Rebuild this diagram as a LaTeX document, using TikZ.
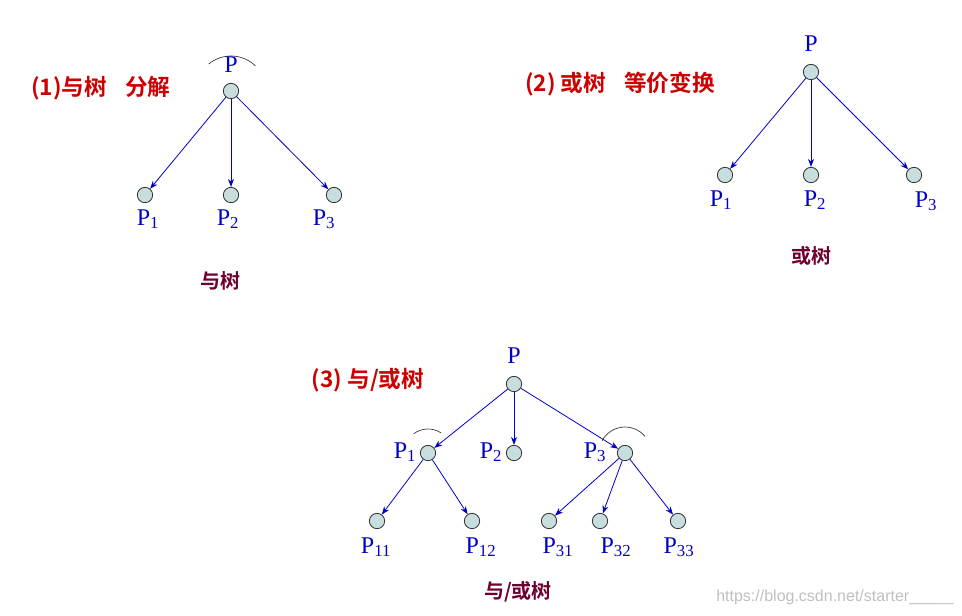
\documentclass[tikz,border=0pt]{standalone}
\usepackage{fontspec}
\setmainfont{Liberation Serif}
\newfontfamily\cjk{Noto Sans CJK SC}[BoldFont={Noto Sans CJK SC Bold}]
\newfontfamily\sans{Liberation Sans}
\usetikzlibrary{arrows.meta,calc}
\definecolor{nodefill}{RGB}{200,222,222}
\definecolor{titlered}{RGB}{204,0,0}
\definecolor{capc}{RGB}{110,0,50}
\definecolor{lblue}{RGB}{0,0,200}
\begin{document}
\begin{tikzpicture}[x=0.75pt,y=-0.75pt,
  nd/.style={circle,draw=black!80,fill=nodefill,inner sep=0pt,minimum size=11.5pt,line width=0.6pt},
  ed/.style={-{Stealth[length=6pt,width=4.5pt]},draw=lblue,line width=0.6pt},
  lbtxt/.style={text=lblue,font=\fontsize{18}{18}\selectfont,inner sep=0pt},
  ttl/.style={text=titlered,font=\cjk\bfseries\fontsize{17}{17}\selectfont,inner sep=0pt},
  captxt/.style={text=capc,font=\cjk\bfseries\fontsize{15}{15}\selectfont,inner sep=0pt},
  arcline/.style={draw=black!80,line width=0.5pt}]
\useasboundingbox (0,0) rectangle (962,615);
% Tree 1
\node[nd] (a) at (231,91) {};
\node[nd] (a1) at (145,195) {};
\node[nd] (a2) at (231,195) {};
\node[nd] (a3) at (334,195) {};
\foreach \t in {a1,a2,a3} \draw[ed] (a) -- (\t);
\draw[arcline] ($(a)+(-129.6:35)$) arc[start angle=-129.6,end angle=-45.7,radius=35];
\node[lbtxt] (la) at (231,65) {P};
\node[lbtxt] (la1) at (148,219) {P\textsubscript{1}};
\node[lbtxt] (la2) at (228,219) {P\textsubscript{2}};
\node[lbtxt] (la3) at (324,219) {P\textsubscript{3}};
\node[ttl] (t1) at (101,88) {(1)与树\hspace{0.8em}分解};
\node[captxt] (c1) at (220,281) {与树};
% Tree 2
\node[nd] (b) at (811,72) {};
\node[nd] (b1) at (725,175) {};
\node[nd] (b2) at (811,175) {};
\node[nd] (b3) at (914,175) {};
\foreach \t in {b1,b2,b3} \draw[ed] (b) -- (\t);
\node[lbtxt] (lb0) at (811,44) {P};
\node[lbtxt] (lb1) at (721,200) {P\textsubscript{1}};
\node[lbtxt] (lb2) at (815,200) {P\textsubscript{2}};
\node[lbtxt] (lb3) at (926,201) {P\textsubscript{3}};
\node[ttl] (t2) at (620,84) {(2) 或树\hspace{0.8em}等价变换};
\node[captxt] (c2) at (811,256) {或树};
% Tree 3
\node[nd] (p) at (514,384) {};
\node[nd] (p1) at (428,453) {};
\node[nd] (p2) at (514,453) {};
\node[nd] (p3) at (625,453) {};
\node[nd] (p11) at (377,521) {};
\node[nd] (p12) at (472,521) {};
\node[nd] (p31) at (549,521) {};
\node[nd] (p32) at (600,521) {};
\node[nd] (p33) at (678,521) {};
\foreach \t in {p1,p2,p3} \draw[ed] (p) -- (\t);
\foreach \t in {p11,p12} \draw[ed] (p1) -- (\t);
\foreach \t in {p31,p32,p33} \draw[ed] (p3) -- (\t);
\draw[arcline] ($(p1)+(-126.9:24)$) arc[start angle=-126.9,end angle=-57,radius=24];
\draw[arcline] ($(p3)+(-152:26)$) arc[start angle=-152,end angle=-40,radius=26];
\node[lbtxt] (lp) at (514,356) {P};
\node[lbtxt] (lp1) at (405,452) {P\textsubscript{1}};
\node[lbtxt] (lp2) at (491,452) {P\textsubscript{2}};
\node[lbtxt] (lp3) at (595,452) {P\textsubscript{3}};
\node[lbtxt] (lp11) at (376,547) {P\textsubscript{11}};
\node[lbtxt] (lp12) at (481,547) {P\textsubscript{12}};
\node[lbtxt] (lp31) at (558,547) {P\textsubscript{31}};
\node[lbtxt] (lp32) at (616,547) {P\textsubscript{32}};
\node[lbtxt] (lp33) at (679,547) {P\textsubscript{33}};
\node[ttl] (t3) at (368,380) {(3) 与/或树};
\node[captxt] (c3) at (518,592) {与/或树};
\node[text=black!25,font=\sans\fontsize{12}{12}\selectfont,inner sep=0pt] (wm) at (835,597) {https://blog.csdn.net/starter\_\_\_\_\_};
\end{tikzpicture}
\end{document}
